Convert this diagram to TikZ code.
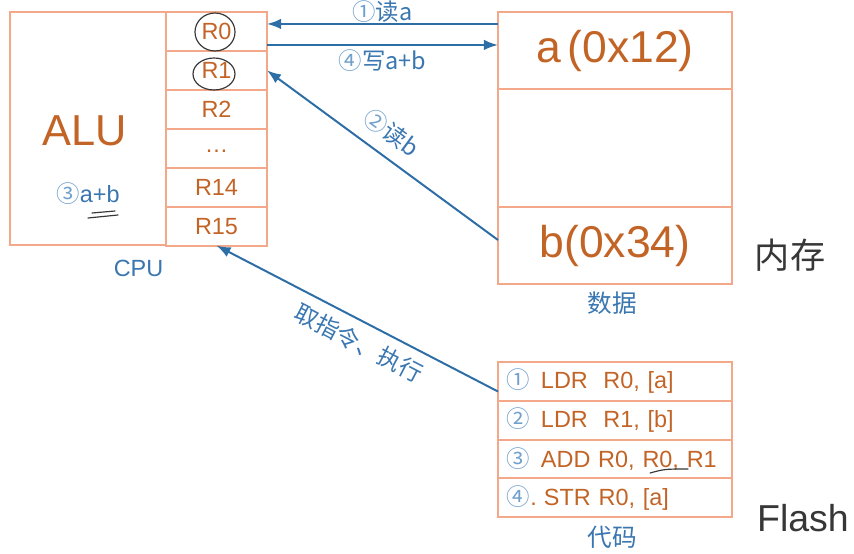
\documentclass[tikz,border=0pt]{standalone}
\usepackage{fontspec}
\setmainfont{Liberation Sans}
\newfontfamily\cjk{Noto Sans CJK SC}
\usetikzlibrary{arrows.meta,calc}
\definecolor{boxline}{RGB}{244,168,138}
\definecolor{celltext}{RGB}{194,100,38}
\definecolor{arrowblue}{RGB}{46,110,166}
\definecolor{labelblue}{RGB}{58,118,176}
\definecolor{numblue}{RGB}{112,160,204}
\definecolor{pen}{RGB}{55,55,55}
\newcommand{\pxfont}[1]{\fontsize{#1}{#1}\selectfont}
\newcommand{\circnum}[1]{{\cjk\color{numblue}#1}}

\begin{document}
\begin{tikzpicture}[x=0.03cm, y=-0.03cm,
	cell/.style={draw=boxline, line width=1.7pt, inner sep=0pt, outer sep=0pt, text=celltext},
	reg/.style={cell, minimum width=3.03cm, minimum height=1.167cm, font=\pxfont{20}},
	mem/.style={cell, minimum width=7.02cm, font=\pxfont{38}},
	code/.style={cell, minimum height=1.16cm, inner xsep=0.27cm, text width=6.48cm, align=left, font=\pxfont{20}},
	lbl/.style={text=labelblue, inner sep=1pt, font=\cjk\pxfont{20}},
	caption/.style={text=labelblue, font=\pxfont{20}},
	arr/.style={draw=arrowblue, line width=1.7pt, -{Latex[length=12pt,width=9pt]}},
	pen/.style={draw=pen, line width=1pt, line cap=round}]
	\useasboundingbox (0,0) rectangle (854,554);
	\node[cell, minimum width=4.68cm, minimum height=7.0cm] (alu) at (88,128.8) {};
	\node[text=celltext, font=\pxfont{37}] (alutext) at (85,131) {ALU};
	\node[text=labelblue, font=\pxfont{20}] (sum) at (88,194) {\circnum{③}a+b};
	\foreach \r [count=\i] in {R0,R1,R2,{\raisebox{-0.35em}{\dots}},R14,R15}
		\node[reg] (reg\i) at (216.5,{12+38.93*(\i-0.5)}) {\r};
	\node[caption] (cpu) at (138.5,268) {CPU};
	\node[mem, minimum height=2.31cm] (mema) at (615,50.5) {a\hspace{0.15em}(0x12)};
	\node[mem, minimum height=3.54cm] (memmid) at (615,148) {};
	\node[mem, minimum height=2.31cm] (memb) at (615,245.5) {b(0x34)};
	\node[caption, font=\cjk\pxfont{21}] (data) at (612,303) {数据};
	\foreach \c [count=\i] in {{\circnum{①}\hspace{0.45em}LDR\ \ R0, [a]},{\circnum{②}\hspace{0.45em}LDR\ \ R1, [b]},{\circnum{③}\hspace{0.45em}ADD R0, R0, R1},{\circnum{④}.\hspace{0.3em}STR R0, [a]}}
		\node[code] (code\i) at (615,{381.5+38.75*(\i-1)}) {\c};
	\node[caption, font=\cjk\pxfont{21}] (prog) at (612,537) {代码};
	\coordinate (rdpt) at ([yshift=0.225cm]reg1.east);
	\coordinate (wrpt) at ([yshift=-0.405cm]reg1.east);
	\draw[arr] (rdpt -| mema.west) -- node[lbl, above=-1pt] (rdlabel) {\circnum{①}读a} (rdpt);
	\draw[arr] (wrpt) -- node[lbl, below=2pt] (wrlabel) {\circnum{④}写a+b} (wrpt -| mema.west);
	\draw[arr] ([yshift=0.165cm]memb.west) -- node[lbl, sloped, above=9pt, pos=0.52] (rblabel) {\circnum{②}读b} (reg2.east);
	\draw[arr] ([yshift=-0.3cm]code1.west) -- node[lbl, sloped, below=7pt, pos=0.46] (fetchlabel) {取指令、执行} (reg6.south);
	\draw[pen] (215,32) ellipse [x radius=0.6cm, y radius=0.57cm];
	\draw[pen] (214,74) ellipse [x radius=0.63cm, y radius=0.48cm];
	\draw[pen] (88,218) -- (118,215);
	\draw[pen] (92,213) -- (115,211);
	\draw[pen] (650,473) .. controls (665,469) .. (688,469);
	\node[text=pen, font=\cjk\pxfont{30}] (memnote) at (790,255) {内存};
	\node[text=pen, font=\pxfont{32}] (flashnote) at (803,518) {Flash};
\end{tikzpicture}
\end{document}
